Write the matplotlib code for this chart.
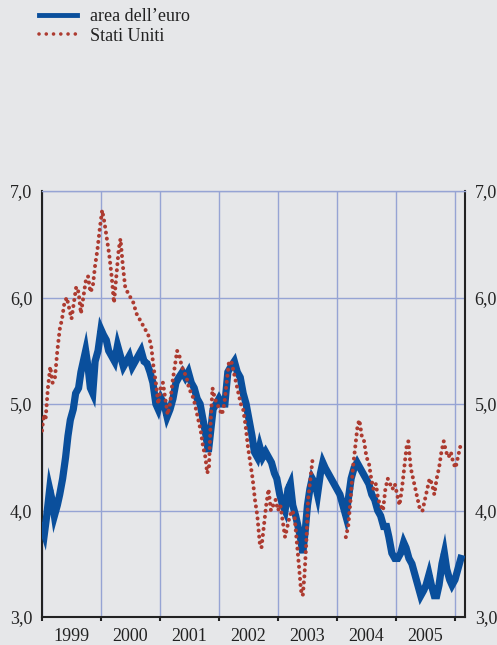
import numpy as np
import matplotlib.pyplot as plt
from matplotlib.lines import Line2D

plt.rcParams['font.family'] = ['Liberation Serif', 'DejaVu Serif']

# euro area 10y yield (decimal years)
euro_t = [1999.00, 1999.04, 1999.08, 1999.13, 1999.17, 1999.21, 1999.26, 1999.30, 1999.35, 1999.40,
          1999.44, 1999.48, 1999.53, 1999.57, 1999.62, 1999.66, 1999.70, 1999.74, 1999.78, 1999.82,
          1999.86, 1999.90, 1999.95, 2000.00, 2000.04, 2000.09, 2000.13, 2000.18, 2000.23, 2000.28,
          2000.33, 2000.38, 2000.43, 2000.48, 2000.53, 2000.58, 2000.63, 2000.68, 2000.73, 2000.78,
          2000.83, 2000.88, 2000.93, 2000.97, 2001.02, 2001.07, 2001.12, 2001.17, 2001.22, 2001.27,
          2001.32, 2001.38, 2001.43, 2001.48, 2001.53, 2001.58, 2001.63, 2001.68, 2001.73, 2001.78,
          2001.82, 2001.86, 2001.90, 2001.95, 2002.00, 2002.05, 2002.10, 2002.15, 2002.20, 2002.26,
          2002.31, 2002.36, 2002.41, 2002.46, 2002.51, 2002.56, 2002.60, 2002.65, 2002.69, 2002.74,
          2002.79, 2002.84, 2002.89, 2002.94, 2002.98, 2003.03, 2003.08, 2003.12, 2003.17, 2003.21,
          2003.25, 2003.30, 2003.34, 2003.38, 2003.42, 2003.46, 2003.50, 2003.54, 2003.58, 2003.63,
          2003.67, 2003.72, 2003.76, 2003.80, 2003.85, 2003.90, 2003.95, 2004.00, 2004.05, 2004.10,
          2004.15, 2004.19, 2004.24, 2004.29, 2004.34, 2004.39, 2004.44, 2004.49, 2004.54, 2004.59,
          2004.64, 2004.69, 2004.74, 2004.79, 2004.84, 2004.88, 2004.93, 2004.98, 2005.03, 2005.08,
          2005.13, 2005.17, 2005.22, 2005.27, 2005.32, 2005.37, 2005.42, 2005.47, 2005.51, 2005.56,
          2005.60, 2005.65, 2005.69, 2005.73, 2005.78, 2005.82, 2005.86, 2005.91, 2005.95, 2006.00,
          2006.05, 2006.10]
euro_v = [3.85, 3.78, 3.95, 4.20, 4.10, 3.95, 4.05, 4.15, 4.30, 4.50,
          4.70, 4.85, 4.95, 5.10, 5.15, 5.30, 5.40, 5.50, 5.35, 5.15,
          5.10, 5.40, 5.50, 5.70, 5.65, 5.60, 5.50, 5.45, 5.40, 5.55,
          5.45, 5.35, 5.40, 5.45, 5.35, 5.40, 5.45, 5.50, 5.40, 5.38,
          5.30, 5.20, 5.00, 4.95, 5.05, 5.00, 4.88, 4.95, 5.05, 5.20,
          5.25, 5.30, 5.25, 5.30, 5.20, 5.15, 5.05, 5.00, 4.85, 4.70,
          4.55, 4.75, 4.95, 5.00, 5.05, 5.00, 5.00, 5.30, 5.35, 5.40,
          5.30, 5.25, 5.10, 5.00, 4.85, 4.70, 4.55, 4.50, 4.60, 4.50,
          4.55, 4.50, 4.45, 4.35, 4.30, 4.15, 4.05, 4.00, 4.20, 4.25,
          4.05, 3.95, 3.85, 3.75, 3.60, 3.80, 4.05, 4.20, 4.30, 4.25,
          4.15, 4.35, 4.45, 4.40, 4.35, 4.30, 4.25, 4.20, 4.15, 4.05,
          3.95, 4.10, 4.30, 4.40, 4.45, 4.40, 4.35, 4.30, 4.25, 4.15,
          4.10, 4.00, 3.95, 3.85, 3.85, 3.75, 3.60, 3.55, 3.55, 3.60,
          3.70, 3.65, 3.55, 3.50, 3.40, 3.30, 3.20, 3.25, 3.30, 3.40,
          3.30, 3.20, 3.20, 3.30, 3.50, 3.60, 3.45, 3.35, 3.30, 3.35,
          3.45, 3.55]

# US 10y yield (gap where the chart shows no dots)
us_t = [1999.00, 1999.03, 1999.06, 1999.10, 1999.14, 1999.18, 1999.22, 1999.26, 1999.30, 1999.34,
        1999.38, 1999.42, 1999.46, 1999.50, 1999.54, 1999.58, 1999.62, 1999.66, 1999.70, 1999.74,
        1999.78, 1999.82, 1999.86, 1999.90, 1999.94, 1999.98, 2000.02, 2000.06, 2000.10, 2000.14,
        2000.18, 2000.22, 2000.26, 2000.30, 2000.33, 2000.37, 2000.41, 2000.45, 2000.50, 2000.55,
        2000.60, 2000.65, 2000.70, 2000.75, 2000.80, 2000.85, 2000.89, 2000.93, 2000.97, 2001.01,
        2001.05, 2001.09, 2001.13, 2001.17, 2001.21, 2001.25, 2001.29, 2001.33, 2001.37, 2001.41,
        2001.45, 2001.49, 2001.53, 2001.57, 2001.61, 2001.65, 2001.69, 2001.73, 2001.77, 2001.80,
        2001.83, 2001.86, 2001.89, 2001.93, 2001.97, 2002.01, 2002.05, 2002.09, 2002.13, 2002.17,
        2002.21, 2002.25, 2002.29, 2002.33, 2002.37, 2002.41, 2002.45, 2002.49, 2002.53, 2002.57,
        2002.61, 2002.65, 2002.69, 2002.72, 2002.76, 2002.80, 2002.84, 2002.88, 2002.92, 2002.96,
        2003.00, 2003.04, 2003.08, 2003.12, 2003.16, 2003.20, 2003.24, 2003.28, 2003.32, 2003.36,
        2003.39, 2003.42, 2003.45, 2003.48, 2003.51, 2003.55, 2003.59, 2003.62, 2004.13, 2004.15,
        2004.19, 2004.23, 2004.27, 2004.31, 2004.35, 2004.38, 2004.42, 2004.46, 2004.50, 2004.54,
        2004.58, 2004.62, 2004.66, 2004.70, 2004.74, 2004.78, 2004.82, 2004.86, 2004.90, 2004.94,
        2004.98, 2005.02, 2005.06, 2005.10, 2005.14, 2005.18, 2005.21, 2005.25, 2005.29, 2005.33,
        2005.37, 2005.41, 2005.45, 2005.49, 2005.53, 2005.57, 2005.61, 2005.65, 2005.69, 2005.73,
        2005.77, 2005.81, 2005.85, 2005.89, 2005.93, 2005.97, 2006.01, 2006.05, 2006.09, 2006.12]
us_v = [4.75, 4.90, 4.85, 5.15, 5.35, 5.20, 5.25, 5.50, 5.70, 5.80,
        5.95, 6.00, 5.90, 5.80, 5.95, 6.10, 6.05, 5.85, 6.00, 6.15,
        6.20, 6.05, 6.10, 6.30, 6.45, 6.65, 6.82, 6.70, 6.55, 6.40,
        6.20, 5.95, 6.20, 6.45, 6.55, 6.30, 6.10, 6.05, 6.00, 5.95,
        5.85, 5.80, 5.75, 5.70, 5.65, 5.55, 5.35, 5.20, 5.00, 5.15,
        5.20, 5.05, 4.90, 5.00, 5.20, 5.35, 5.50, 5.45, 5.35, 5.30,
        5.25, 5.15, 5.10, 5.05, 4.95, 4.85, 4.75, 4.60, 4.50, 4.35,
        4.40, 4.85, 5.15, 5.05, 5.00, 4.95, 4.90, 5.00, 5.20, 5.40,
        5.40, 5.30, 5.20, 5.10, 5.00, 4.95, 4.80, 4.60, 4.45, 4.30,
        4.10, 3.95, 3.70, 3.65, 3.85, 4.05, 4.20, 4.00, 4.05, 4.10,
        4.00, 4.05, 3.90, 3.75, 3.85, 3.95, 4.00, 3.95, 3.70, 3.45,
        3.25, 3.20, 3.40, 3.70, 4.10, 4.30, 4.50, np.nan, np.nan, 3.75,
        3.85, 4.10, 4.40, 4.60, 4.80, 4.85, 4.70, 4.65, 4.50, 4.45,
        4.30, 4.20, 4.25, 4.10, 4.05, 4.00, 4.20, 4.30, 4.25, 4.20,
        4.25, 4.15, 4.05, 4.20, 4.40, 4.60, 4.65, 4.40, 4.30, 4.20,
        4.10, 4.00, 4.00, 4.10, 4.20, 4.30, 4.25, 4.15, 4.30, 4.40,
        4.55, 4.65, 4.55, 4.50, 4.55, 4.45, 4.40, 4.50, 4.60, 4.65]

years = [1999, 2000, 2001, 2002, 2003, 2004, 2005]
y_ticks = [3.0, 4.0, 5.0, 6.0, 7.0]

bg = '#e6e7e9'
blue = '#0a4f9c'
red = '#ad3b30'
gridc = '#96a4d4'
txt = '#222222'

fig = plt.figure(figsize=(4.97, 6.45), dpi=100, facecolor=bg)
ax = fig.add_axes([42 / 497, 1 - 617 / 645, (465 - 42) / 497, (617 - 191) / 645])
ax.set_facecolor(bg)

ax.plot(euro_t, euro_v, color=blue, lw=5.2, solid_joinstyle='miter', zorder=3)
ax.plot(us_t, us_v, color=red, lw=2.9, linestyle=(0, (0.01, 1.5)),
        dash_capstyle='round', zorder=4)

ax.set_xlim(1999.0, 2006.17)
ax.set_ylim(3.0, 7.0)

# year boundaries as major ticks, year names as minor ticks
ax.set_xticks(np.arange(1999, 2007))
ax.set_xticklabels([])
ax.set_xticks([y + 0.5 for y in years], minor=True)
ax.set_xticklabels([str(y) for y in years], minor=True, fontsize=13, color=txt)
ax.tick_params(axis='x', which='major', direction='out', length=3, width=1.5, color=txt)
ax.tick_params(axis='x', which='minor', length=0, pad=8)

ax.set_yticks(y_ticks)
ax.set_yticklabels([f'{v:.1f}'.replace('.', ',') for v in y_ticks], fontsize=13, color=txt)
ax.tick_params(axis='y', length=0, pad=7, labelleft=True, labelright=True)

ax.grid(True, which='major', color=gridc, lw=1.0, zorder=0)
ax.set_axisbelow(True)

ax.spines['top'].set_color(gridc)
ax.spines['top'].set_linewidth(1.0)
for s in ['left', 'right', 'bottom']:
    ax.spines[s].set_color(txt)
    ax.spines[s].set_linewidth(1.5)

handles = [Line2D([], [], color=blue, lw=3.5),
           Line2D([], [], color=red, lw=2.6, linestyle=(0, (0.01, 2.0)), dash_capstyle='round')]
labels = ['area dell\u2019euro', 'Stati Uniti']
fig.legend(handles, labels, loc='upper left', bbox_to_anchor=(39 / 497, 1 - 8 / 645),
           frameon=False, fontsize=13, handlelength=2.1, handletextpad=0.75,
           labelspacing=0.15, borderpad=0, borderaxespad=0, labelcolor=txt)

fig.savefig('out.png', dpi=100, facecolor=bg)
